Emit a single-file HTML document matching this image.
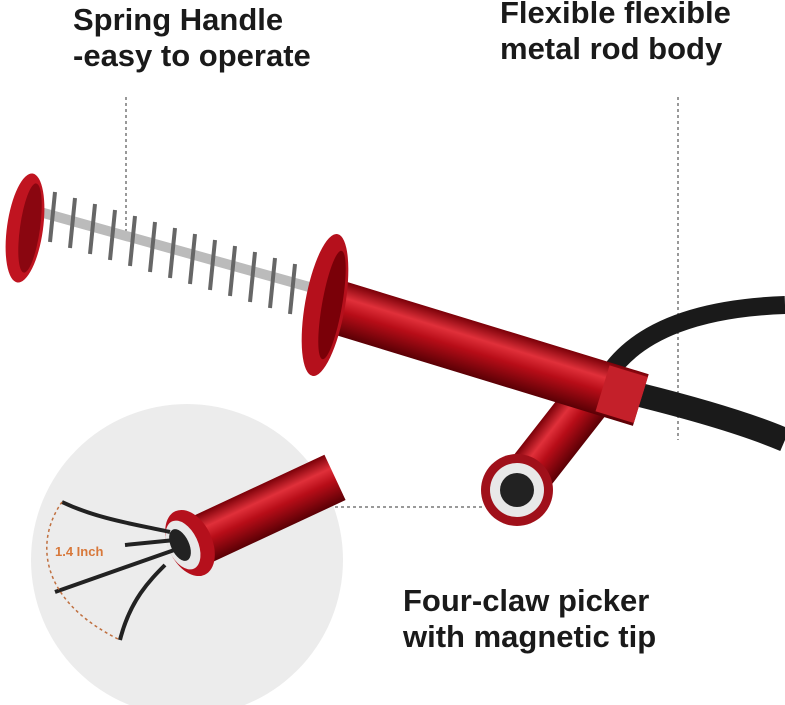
<!DOCTYPE html>
<html><head><meta charset="utf-8"><style>
html,body{margin:0;padding:0;background:#fff;width:785px;height:705px;overflow:hidden}
svg{display:block}
text{font-family:"Liberation Sans",Arial,sans-serif;font-weight:bold;fill:#1a1a1a}
</style></head><body>
<svg width="785" height="705" viewBox="0 0 785 705">
<defs>
<linearGradient id="red" x1="0" y1="0" x2="0" y2="1">
<stop offset="0" stop-color="#7a0008"/><stop offset="0.3" stop-color="#e0303a"/><stop offset="0.55" stop-color="#b80d18"/><stop offset="1" stop-color="#5a0005"/>
</linearGradient>
</defs>
<circle cx="187" cy="560" r="156" fill="#ececec"/>
<g stroke="#333" stroke-width="1" stroke-dasharray="3,3" fill="none">
<line x1="126" y1="97" x2="126" y2="232"/>
<line x1="678" y1="97" x2="678" y2="440"/>
<line x1="335" y1="507" x2="482" y2="507"/>
</g>
<path d="M640 395 C700 410,750 425,785 440" stroke="#1a1a1a" stroke-width="24" fill="none"/>
<path d="M610 372 C640 330,700 308,785 305" stroke="#1a1a1a" stroke-width="18" fill="none"/>
<g transform="translate(517,490) rotate(-52)">
<rect x="0" y="-24" width="125" height="48" fill="url(#red)"/>
</g>
<circle cx="517" cy="490" r="36" fill="#a0101a"/>
<circle cx="517" cy="490" r="27" fill="#e8e8e8"/>
<circle cx="517" cy="490" r="17" fill="#222"/>
<path d="M40 212 L320 290" stroke="#bbb" stroke-width="10"/>
<g stroke="#666" stroke-width="4">
<line x1="55" y1="192" x2="50" y2="242"/><line x1="75" y1="198" x2="70" y2="248"/>
<line x1="95" y1="204" x2="90" y2="254"/><line x1="115" y1="210" x2="110" y2="260"/>
<line x1="135" y1="216" x2="130" y2="266"/><line x1="155" y1="222" x2="150" y2="272"/>
<line x1="175" y1="228" x2="170" y2="278"/><line x1="195" y1="234" x2="190" y2="284"/>
<line x1="215" y1="240" x2="210" y2="290"/><line x1="235" y1="246" x2="230" y2="296"/>
<line x1="255" y1="252" x2="250" y2="302"/><line x1="275" y1="258" x2="270" y2="308"/>
<line x1="295" y1="264" x2="290" y2="314"/><line x1="315" y1="270" x2="310" y2="320"/>
</g>
<ellipse cx="25" cy="228" rx="18" ry="55" fill="#c01420" transform="rotate(8 25 228)"/>
<ellipse cx="30" cy="228" rx="10" ry="45" fill="#8a0610" transform="rotate(8 30 228)"/>
<g transform="translate(330,305) rotate(17)">
<rect x="0" y="-27" width="325" height="54" fill="url(#red)"/>
<rect x="285" y="-24" width="40" height="48" fill="#c4202a"/>
</g>
<ellipse cx="325" cy="305" rx="20" ry="72" fill="#b5101c" transform="rotate(10 325 305)"/>
<ellipse cx="332" cy="305" rx="10" ry="55" fill="#7a0008" transform="rotate(10 332 305)"/>
<g transform="translate(190,545) rotate(-25)">
<rect x="0" y="-25" width="160" height="50" fill="url(#red)"/>
</g>
<ellipse cx="190" cy="543" rx="22" ry="35" fill="#b5101c" transform="rotate(-25 190 543)"/>
<ellipse cx="183" cy="545" rx="15" ry="26" fill="#e8e8e8" transform="rotate(-25 183 545)"/>
<ellipse cx="180" cy="545" rx="9" ry="17" fill="#222" transform="rotate(-25 180 545)"/>
<g stroke="#222" stroke-width="4" fill="none">
<path d="M62 502 C100 520,140 525,170 532"/>
<path d="M55 592 L180 548"/>
<path d="M120 640 C130 600,150 580,165 565"/>
<path d="M125 545 L175 540"/>
</g>
<path d="M62 502 C35 540,38 600,120 640" stroke="#c07040" stroke-width="1.5" stroke-dasharray="3,3" fill="none"/>
<text x="55" y="556" style="font-size:13px;fill:#d8783a">1.4 Inch</text>
<text x="73" y="30" style="font-size:31px">Spring Handle</text>
<text x="73" y="66" style="font-size:31px">-easy to operate</text>
<text x="500" y="23" style="font-size:31px">Flexible flexible</text>
<text x="500" y="59" style="font-size:31px">metal rod body</text>
<text x="403" y="611" style="font-size:31px">Four-claw picker</text>
<text x="403" y="647" style="font-size:31px">with magnetic tip</text>
</svg>
</body></html>
